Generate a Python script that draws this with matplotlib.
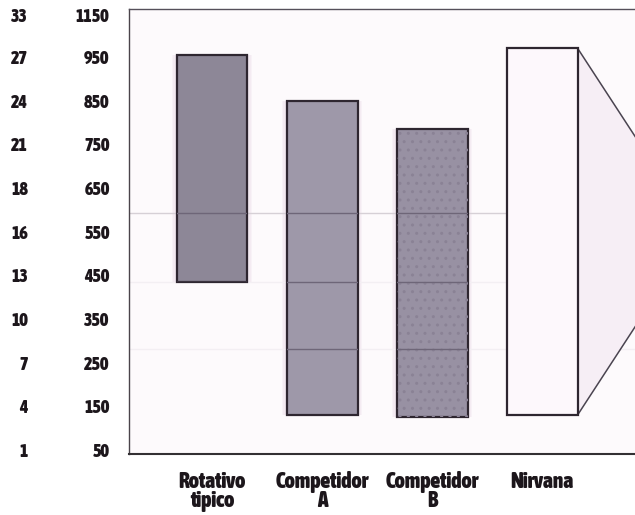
import matplotlib
matplotlib.use('Agg')
import matplotlib.pyplot as plt
from matplotlib import font_manager
from matplotlib.font_manager import FontProperties
from matplotlib.patches import Polygon

# datos
categories = ['Rotativo\ntipico', 'Competidor\nA', 'Competidor\nB', 'Nirvana']
bar_top = [955, 850, 785, 970]
bar_bottom = [435, 130, 125, 130]
tick_values = [50, 150, 250, 350, 450, 550, 650, 750, 850, 950, 1045]
tick_labels = ['50', '150', '250', '350', '450', '550', '650', '750', '850', '950', '1150']
left_labels = ['1', '4', '7', '10', '13', '16', '18', '21', '24', '27', '33']
grid_values = [593, 435, 281]

# buscar una fuente estrecha y negrita
def is_narrow(f):
    s = f.stretch
    if isinstance(s, str):
        narrow = 'condensed' in s
    else:
        narrow = s < 500
    return narrow or 'Narrow' in f.name or 'Condensed' in f.name

def weight_num(w):
    if isinstance(w, int):
        return w
    return {'bold': 700, 'heavy': 800, 'black': 900, 'semibold': 600, 'demibold': 600}.get(w, 400)

cands = [f for f in font_manager.fontManager.ttflist
         if is_narrow(f) and weight_num(f.weight) >= 600 and f.style == 'normal']
cands.sort(key=lambda f: (0 if 'Liberation' in f.name else 1, f.name))
if cands:
    fp = FontProperties(fname=cands[0].fname)
    ysize, xsize = 13, 15.5
else:
    fp = FontProperties(family='DejaVu Sans', weight='bold')
    ysize, xsize = 10.5, 11

txt = '#1c161b'

fig = plt.figure(figsize=(6.35, 5.15), dpi=100)
ax = fig.add_axes([129/635, 61/515, 544/635, 445/515])
ax.set_facecolor('#fdfafc')

x = list(range(len(categories)))
heights = [t - b for t, b in zip(bar_top, bar_bottom)]
fills = ['#8d8797', '#9e98a9', '#9891a3', '#fdf8fc']
w = 0.645

# sombra suave
for k in range(3):
    ax.bar(x[:3], heights[:3], bottom=bar_bottom[:3], width=w + 0.03*(k+1),
           color='#d9bfd4', alpha=0.12, linewidth=0, zorder=1)

bars = ax.bar(x, heights, bottom=bar_bottom, width=w, color=fills,
              edgecolor='#2e2630', linewidth=1.6, zorder=2)
bars[3].set_zorder(5)

# punteado del competidor B
ax.bar(x[2], heights[2], bottom=bar_bottom[2], width=w, fill=False,
       hatch='..', edgecolor='#8a8295', linewidth=0, zorder=2.5)

# lineas de rejilla
for g in grid_values:
    ax.axhline(g, color='#d6d0d6' if g == grid_values[0] else '#f3eff3', lw=1, zorder=1.5)
    for b in bars[:3]:
        ln = ax.axhline(g, color='#6e6678', lw=1, zorder=3)
        ln.set_clip_path(b)

# triangulo del Nirvana
xr = x[3] + w/2
tri = Polygon([(xr, bar_top[3]), (xr + 1.087, (bar_top[3] + bar_bottom[3])/2), (xr, bar_bottom[3])],
              closed=False, facecolor='#f6eef5', edgecolor='#4a4450', lw=1.1, zorder=4)
ax.add_patch(tri)

ax.set_xlim(-0.7545, 4.19)
ax.set_ylim(40.8, 1059.8)

ax.set_yticks(tick_values, tick_labels)
ax.tick_params(axis='y', length=0, pad=14, labelcolor=txt)
for lbl in ax.get_yticklabels():
    lbl.set_fontproperties(fp)
    lbl.set_fontsize(ysize)
trans = ax.get_yaxis_transform()
for v, lab in zip(tick_values, left_labels):
    ax.text(-(129 - 28)/544, v, lab, ha='right', va='center_baseline',
            fontproperties=fp, fontsize=ysize, color=txt, transform=trans)

ax.set_xticks(x, categories)
ax.tick_params(axis='x', length=0, pad=12, labelcolor=txt)
for lbl in ax.get_xticklabels():
    lbl.set_fontproperties(fp)
    lbl.set_fontsize(xsize)
    lbl.set_linespacing(0.82)

ax.spines['right'].set_visible(False)
ax.spines['left'].set_color('#4a444a')
ax.spines['left'].set_linewidth(1)
ax.spines['top'].set_color('#55505a')
ax.spines['top'].set_linewidth(1)
ax.spines['bottom'].set_color('#333033')
ax.spines['bottom'].set_linewidth(1.5)

fig.savefig('out.png', dpi=100)
